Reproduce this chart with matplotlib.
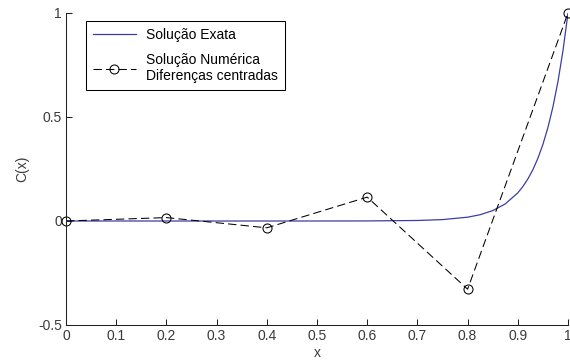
import numpy as np
import matplotlib.pyplot as plt

plt.rcParams['font.family'] = ['Liberation Sans', 'DejaVu Sans']
plt.rcParams['font.size'] = 10

# Solução exata C(x)
x_exata = [0.0, 0.5, 0.6, 0.7, 0.75, 0.8, 0.825, 0.85, 0.875, 0.9, 0.91, 0.92,
           0.93, 0.94, 0.95, 0.96, 0.97, 0.98, 0.99, 1.0]
c_exata = [0.0, 0.0, 0.0003, 0.0025, 0.0067, 0.0183, 0.0302, 0.0498, 0.0821,
           0.1353, 0.1653, 0.2019, 0.2466, 0.3012, 0.3679, 0.4493, 0.5488,
           0.6703, 0.8187, 1.0]

# Solução numérica (diferenças centradas, h = 0.2)
x_num = [0.0, 0.2, 0.4, 0.6, 0.8, 1.0]
c_num = [0.0, 0.0164, -0.0328, 0.1148, -0.3279, 1.0]

xticks = [0, 0.1, 0.2, 0.3, 0.4, 0.5, 0.6, 0.7, 0.8, 0.9, 1]
xlabels = ['0', '0.1', '0.2', '0.3', '0.4', '0.5', '0.6', '0.7', '0.8', '0.9', '1']
yticks = [-0.5, 0, 0.5, 1]
ylabels = ['-0.5', '0', '0.5', '1']

cor_texto = '#3a3a3a'

fig = plt.figure(figsize=(5.7, 3.63), dpi=100)
ax = fig.add_axes([66/570, 38/363, 502/570, 312/363])

ax.plot(x_exata, c_exata, color='#3c3ca6', lw=0.9, label='Solução Exata')
ax.plot(x_num, c_num, color='black', lw=0.75, ls=(0, (8, 4)), marker='o',
        markersize=6.5, markerfacecolor='none', markeredgewidth=0.75,
        clip_on=False, label='Solução Numérica\nDiferenças centradas')

ax.set_xlim(0, 1)
ax.set_ylim(-0.5, 1)
ax.set_xticks(xticks)
ax.set_xticklabels(xlabels)
ax.set_yticks(yticks)
ax.set_yticklabels(ylabels)
ax.tick_params(direction='in', length=4, width=0.75, colors='#222222',
               labelcolor=cor_texto, pad=3)

for lado in ['top', 'right']:
    ax.spines[lado].set_visible(False)
for lado in ['left', 'bottom']:
    ax.spines[lado].set_linewidth(0.75)
    ax.spines[lado].set_color('#222222')

ax.set_xlabel('x', color=cor_texto, labelpad=2)
ax.set_ylabel('C(x)', color=cor_texto, labelpad=6)

leg = ax.legend(loc='upper left', bbox_to_anchor=(86/570, 1 - 21/363),
                bbox_transform=fig.transFigure, borderaxespad=0,
                fancybox=False, framealpha=1, edgecolor='black',
                handlelength=3.1, handletextpad=0.7, borderpad=0.5,
                labelspacing=0.78)
leg.get_frame().set_linewidth(0.75)
for t in leg.get_texts():
    t.set_color('black')

fig.savefig('out.png', dpi=100)
